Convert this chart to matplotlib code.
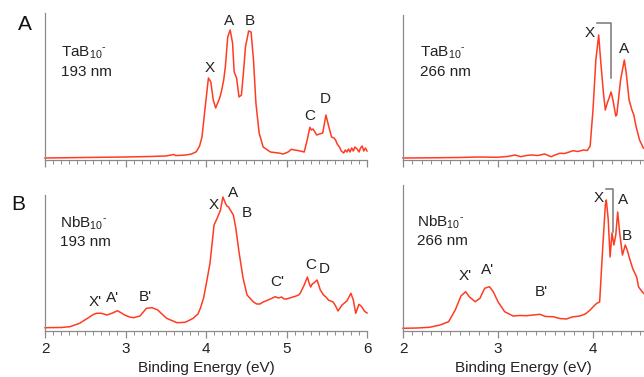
import matplotlib
matplotlib.use("Agg")
import matplotlib.pyplot as plt

plt.rcParams['font.family'] = ['Liberation Sans', 'DejaVu Sans']
plt.rcParams['mathtext.fontset'] = 'custom'
plt.rcParams['mathtext.rm'] = 'Liberation Sans'
plt.rcParams['mathtext.it'] = 'Liberation Sans'

# ---------------- data (binding energy eV, intensity arb.) ----------------
ta193_e = [2.0, 2.5, 3.0, 3.3, 3.5, 3.6, 3.62, 3.65, 3.75, 3.82, 3.88, 3.92, 3.95, 3.99, 4.03, 4.06,
           4.09, 4.12, 4.15, 4.17, 4.19, 4.22, 4.24, 4.27, 4.30, 4.33, 4.35, 4.38, 4.41, 4.44, 4.47,
           4.49, 4.53, 4.56, 4.59, 4.62, 4.66, 4.71, 4.80, 4.90, 4.96, 5.02, 5.06, 5.10, 5.14, 5.17,
           5.22, 5.26, 5.29, 5.31, 5.33, 5.375, 5.41, 5.45, 5.49, 5.52, 5.56, 5.59, 5.61, 5.63, 5.66,
           5.68, 5.71, 5.73, 5.75, 5.77, 5.79, 5.81, 5.83, 5.85, 5.88, 5.90, 5.92, 5.94, 5.96, 5.98, 6.0]
ta193_i = [2, 2.5, 3, 3.5, 4, 5.5, 4.5, 4.5, 5, 6, 8.3, 14, 23, 53, 82, 78,
           60, 52, 58, 62, 68, 80, 93, 123, 130, 117, 88, 82, 63, 65, 92,
           113, 129, 128, 100, 57, 27, 13, 8, 7, 6, 8, 10.7, 10, 9.5, 9,
           8, 21, 32.7, 30, 31, 25, 26, 27, 45, 35, 23, 22, 20, 16, 12.7,
           9, 7, 10, 8, 11, 8, 12, 9, 13, 10.7, 8, 12, 14, 9, 12, 9]

nb193_e = [2.0, 2.2, 2.31, 2.43, 2.54, 2.60, 2.64, 2.70, 2.77, 2.84, 2.90, 2.95, 2.99, 3.05, 3.10,
           3.18, 3.26, 3.33, 3.40, 3.51, 3.64, 3.74, 3.80, 3.84, 3.90, 3.93, 3.97, 4.01, 4.05, 4.10,
           4.14, 4.18, 4.21, 4.24, 4.26, 4.28, 4.30, 4.31, 4.34, 4.37, 4.41, 4.46, 4.51, 4.59, 4.63,
           4.67, 4.71, 4.75, 4.80, 4.86, 4.90, 4.94, 4.97, 5.00, 5.04, 5.08, 5.12, 5.15, 5.17, 5.22,
           5.26, 5.28, 5.30, 5.32, 5.34, 5.38, 5.42, 5.46, 5.49, 5.52, 5.55, 5.58, 5.61, 5.64, 5.69,
           5.75, 5.80, 5.83, 5.86, 5.90, 5.93, 5.97, 6.0]
nb193_i = [3.3, 3.5, 4.3, 7.7, 13.3, 16.5, 17.7, 17.7, 16, 18, 20.3, 18, 16, 14, 13.3,
           15, 22.7, 23.3, 21, 12.7, 8.3, 8.7, 11, 12.7, 17, 22.7, 33, 50, 68, 106,
           113, 121, 134, 128, 125, 124, 121, 120, 116, 103, 79, 53, 36, 29, 27,
           27, 29, 30.3, 32, 34.3, 33, 34, 32, 32, 33, 34, 35, 36, 37.7, 46,
           54, 48, 44, 47, 48, 51, 41, 36, 34, 31, 30, 29, 25, 20, 26,
           30, 37.7, 31, 17.7, 26.7, 24.7, 19.7, 18]

ta266_e = [2.0, 2.3, 2.6, 2.8, 2.99, 3.1, 3.18, 3.24, 3.30, 3.35, 3.42, 3.49, 3.56, 3.60, 3.65,
           3.70, 3.75, 3.79, 3.84, 3.90, 3.94, 3.97, 4.00, 4.03, 4.06, 4.08, 4.11, 4.13, 4.15, 4.17,
           4.19, 4.21, 4.24, 4.25, 4.27, 4.29, 4.33, 4.35, 4.38, 4.41, 4.43, 4.45, 4.49, 4.53, 4.56]
ta266_i = [2, 2.2, 2.5, 3, 2.7, 3.5, 5, 3.3, 4.5, 5, 4.5, 6, 3.3, 5, 6.7,
           6.5, 8, 9.3, 8.5, 10, 9.5, 14, 50, 100, 125, 100, 67, 50, 57, 62,
           68, 60, 44, 45, 62, 80, 100, 87, 60, 50, 45, 35, 20, 12, 10]

nb266_e = [2.0, 2.15, 2.28, 2.39, 2.48, 2.55, 2.61, 2.66, 2.70, 2.76, 2.81, 2.86, 2.91, 2.95, 3.00,
           3.07, 3.16, 3.23, 3.30, 3.37, 3.44, 3.50, 3.58, 3.65, 3.72, 3.78, 3.86, 3.92, 3.97, 4.01,
           4.04, 4.07, 4.10, 4.13, 4.14, 4.16, 4.18, 4.20, 4.22, 4.24, 4.26, 4.28, 4.31, 4.34, 4.36,
           4.39, 4.42, 4.46, 4.48, 4.52, 4.56]
nb266_i = [2.7, 3, 3.7, 6, 9.3, 21, 35, 39.3, 34, 29.3, 32.7, 42.7, 44.3, 39.3, 29.3,
           19.3, 15, 15.5, 15.3, 16, 16.7, 14.5, 14.3, 12.5, 12, 14, 15, 17, 21, 25,
           27.7, 29, 79, 126, 131, 112, 74, 98, 86, 96, 119, 99, 76, 86, 81,
           71, 62, 54, 44, 39, 35]

# peak labels: (text, energy, height)
ta193_labels = [("X", 4.04, 92), ("A", 4.29, 139), ("B", 4.55, 139), ("C", 5.29, 44), ("D", 5.48, 61)]
nb193_labels = [("X'", 2.62, 29), ("A'", 2.84, 33), ("B'", 3.25, 34), ("X", 4.09, 126),
                ("A", 4.33, 138), ("B", 4.51, 118), ("C'", 4.89, 49), ("C", 5.30, 66), ("D", 5.47, 62)]
ta266_labels = [("X", 3.97, 127), ("A", 4.33, 111)]
nb266_labels = [("X'", 2.65, 55), ("A'", 2.89, 61), ("B'", 3.46, 39), ("X", 4.06, 133),
                ("A", 4.32, 131), ("B", 4.36, 95)]

# bracket marks (energy, height)
ta266_bracket_e = [4.045, 4.189, 4.189]
ta266_bracket_i = [137.3, 137.3, 82]
nb266_bracket_e = [4.134, 4.208, 4.208]
nb266_bracket_i = [142, 142, 99.3]

xticks_left = [2, 3, 4, 5, 6]
xticks_right = [2, 3, 4]

# ---------------- figure ----------------
W, H = 644, 377
fig = plt.figure(figsize=(W / 100, H / 100), dpi=100)

def ax_px(l, t, r, b):
    return fig.add_axes([l / W, 1 - b / H, (r - l) / W, (b - t) / H])

ax_tl = ax_px(45, 13, 367, 160)
ax_bl = ax_px(45, 195, 367, 331)
ax_tr = ax_px(403, 15, 644, 160)
ax_br = ax_px(403, 185, 644, 331)

red = '#ff3b22'
gray = '#8a8a8a'
txt = '#222222'
FS = 11

def style(ax, xlim, ylim, ticks, labels):
    for s in ['top', 'right']:
        ax.spines[s].set_visible(False)
    ax.spines['left'].set_color(gray)
    ax.spines['bottom'].set_color(gray)
    ax.spines['left'].set_linewidth(0.9)
    ax.spines['bottom'].set_linewidth(0.9)
    ax.set_yticks([])
    ax.set_xticks(ticks)
    ax.set_xticks([2 + 0.1 * k for k in range(0, 41) if 2 + 0.1 * k <= xlim[1] + 1e-9], minor=True)
    ax.tick_params(axis='x', which='major', direction='out', length=5, width=0.9, color=gray,
                   labelsize=FS, pad=3, labelcolor=txt)
    ax.tick_params(axis='x', which='minor', direction='out', length=3, width=0.7, color=gray)
    if labels:
        ax.set_xlabel('Binding Energy (eV)', fontsize=FS, color=txt, labelpad=3.5)
    else:
        ax.tick_params(axis='x', which='major', labelbottom=False)
    ax.set_xlim(*xlim)
    ax.set_ylim(*ylim)
    ax.patch.set_alpha(0)

panels = [
    (ax_tl, ta193_e, ta193_i, ta193_labels, (2, 6), (0, 147), xticks_left, False, 'TaB', '193 nm', 0.05, 0.728),
    (ax_bl, nb193_e, nb193_i, nb193_labels, (2, 6), (0, 136), xticks_left, True, 'NbB', '193 nm', 0.047, 0.794),
    (ax_tr, ta266_e, ta266_i, ta266_labels, (2, 4.537), (0, 145), xticks_right, False, 'TaB', '266 nm', 0.07, 0.738),
    (ax_br, nb266_e, nb266_i, nb266_labels, (2, 4.537), (0, 146), xticks_right, True, 'NbB', '266 nm', 0.058, 0.747),
]

for ax, e, i, labs, xl, yl, tk, showlab, sp, wl, tx, ty in panels:
    style(ax, xl, yl, tk, showlab)
    ax.plot(e, i, color=red, lw=1.1, clip_on=False)
    for t, xe, yh in labs:
        ax.text(xe, yh, t, ha='center', va='center', fontsize=FS, color=txt)
    ax.text(tx, ty, sp + r'$_{10}{}^{\text{-}}$', transform=ax.transAxes, ha='left', va='center',
            fontsize=FS, color=txt)
    ax.text(tx, ty - 0.128 * 147 / yl[1], wl, transform=ax.transAxes, ha='left', va='center',
            fontsize=FS, color=txt)

ax_tr.plot(ta266_bracket_e, ta266_bracket_i, color='#777777', lw=1.1, clip_on=False)
ax_br.plot(nb266_bracket_e, nb266_bracket_i, color='#777777', lw=1.1, clip_on=False)

fig.text(25 / W, 1 - 24 / H, 'A', fontsize=15, ha='center', va='center', color='#111111')
fig.text(18 / W, 1 - 205 / H, 'B', fontsize=15, ha='center', va='center', color='#111111')

fig.savefig('out.png', dpi=100)
